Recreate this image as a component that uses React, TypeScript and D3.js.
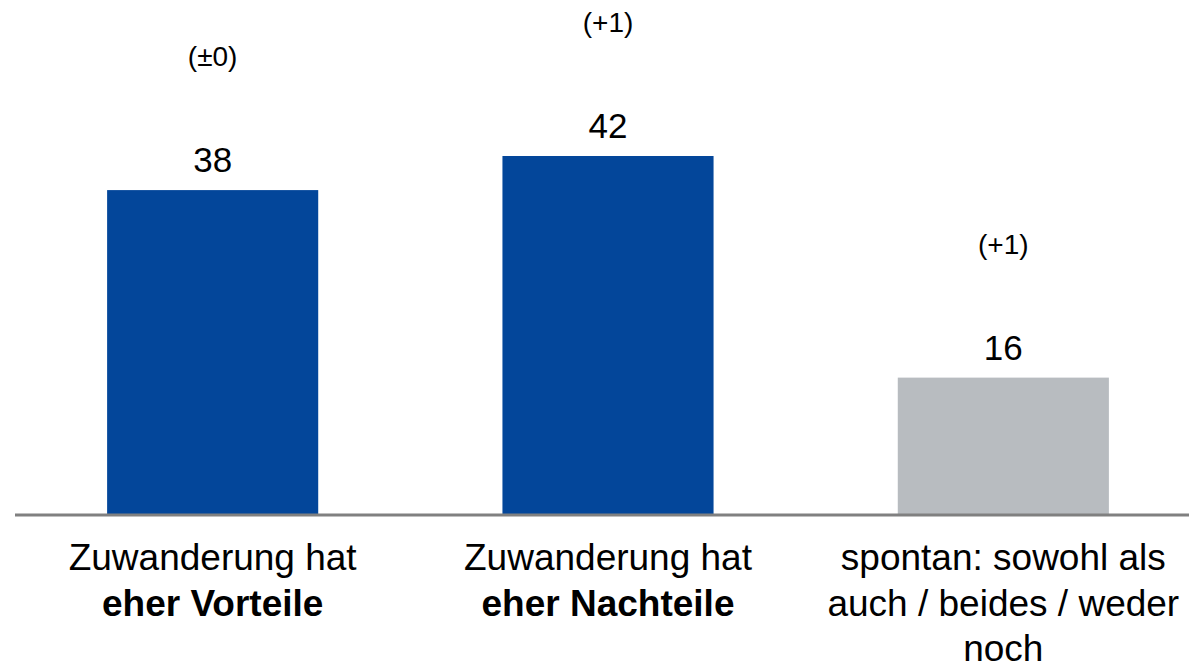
import React from "react";
import * as d3 from "d3";

const categories = ["Vorteile", "Nachteile", "beides"];
const values = [38, 42, 16];
const changes = ["(±0)", "(+1)", "(+1)"];
const barColors = ["#03469A", "#03469A", "#B8BCC0"];
const labelLines: { text: string; bold: boolean }[][][] = [
  [[{ text: "Zuwanderung hat", bold: false }], [{ text: "eher Vorteile", bold: true }]],
  [[{ text: "Zuwanderung hat", bold: false }], [{ text: "eher Nachteile", bold: true }]],
  [
    [{ text: "spontan: sowohl als", bold: false }],
    [{ text: "auch / beides / weder", bold: false }],
    [{ text: "noch", bold: false }],
  ],
];

const W = 1189;
const H = 666;
const baseY = 514;

export default function App() {
  const x = d3.scaleBand<string>().domain(categories).range([15, 1201]).paddingInner(0.466).paddingOuter(0.233);
  const y = d3.scaleLinear().domain([0, 42]).range([baseY, 156]);
  const font = "'Liberation Sans', Arial, sans-serif";
  return (
    <svg width={W} height={H} style={{ position: "absolute", left: 0, top: 0, background: "#fff" }} fontFamily={font}>
      {categories.map((c, i) => {
        const bx = x(c)!;
        const bw = x.bandwidth();
        const cx = bx + bw / 2;
        const top = y(values[i]);
        return (
          <g key={c}>
            <rect x={bx} y={top} width={bw} height={baseY - top} fill={barColors[i]} />
            <text x={cx} y={top - 18} textAnchor="middle" fontSize={35} fill="#000">
              {values[i]}
            </text>
            <text x={cx} y={top - 124} textAnchor="middle" fontSize={28} fill="#000">
              {changes[i]}
            </text>
            {labelLines[i].map((line, li) => (
              <text key={li} x={cx} y={570 + li * 45.5} textAnchor="middle" fontSize={37} fill="#000">
                {line.map((s, si) => (
                  <tspan key={si} fontWeight={s.bold ? "bold" : "normal"}>
                    {s.text}
                  </tspan>
                ))}
              </text>
            ))}
          </g>
        );
      })}
      <line x1={15} x2={W} y1={515} y2={515} stroke="#808080" strokeWidth={3} />
    </svg>
  );
}
